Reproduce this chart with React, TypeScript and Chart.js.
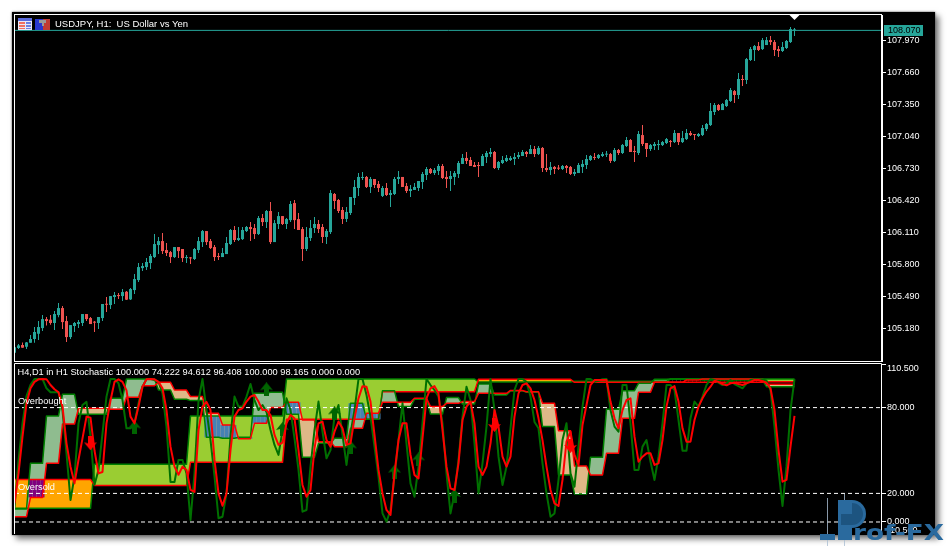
import React, { useEffect, useRef } from "react";
import { Chart, registerables } from "chart.js";

Chart.register(...registerables);

const chartTitle = "USDJPY, H1:  US Dollar vs Yen";
const stochTitle = "H4,D1 in H1 Stochastic 100.000 74.222 94.612 96.408 100.000 98.165 0.000 0.000";
const bidPrice = 108.07;
const priceTicks = [107.97, 107.66, 107.35, 107.04, 106.73, 106.42, 106.11, 105.8, 105.49, 105.18];
const stochTicks = [110.5, 80, 20, 0, -10.5];
const stochLevels = [80, 20, 0];

const candleHigh = [
  105.005,105.031,105.047,105.051,105.119,105.196,105.254,105.312,105.293,105.312,
  105.351,105.429,105.399,105.303,105.215,105.244,105.264,105.322,105.322,105.293,
  105.254,105.293,105.419,105.487,105.496,105.535,105.525,105.564,105.545,105.574,
  105.709,105.816,105.816,105.864,105.903,106.097,106.068,106.107,106.010,105.932,
  105.971,105.971,105.952,105.893,105.874,105.961,106.068,106.136,106.126,106.048,
  105.990,105.913,105.961,106.068,106.145,106.174,106.165,106.165,106.174,106.213,
  106.194,106.271,106.291,106.329,106.407,106.232,106.310,106.271,106.252,106.417,
  106.426,106.300,106.165,106.165,106.232,106.262,106.232,106.194,106.145,106.523,
  106.495,106.437,106.359,106.359,106.456,106.621,106.688,106.698,106.659,106.650,
  106.630,106.611,106.562,106.592,106.524,106.650,106.708,106.650,106.592,106.572,
  106.592,106.611,106.698,106.747,106.737,106.737,106.776,106.776,106.708,106.708,
  106.708,106.805,106.872,106.892,106.843,106.795,106.795,106.872,106.901,106.930,
  106.901,106.805,106.853,106.863,106.853,106.882,106.892,106.911,106.901,106.960,
  106.950,106.950,106.940,106.872,106.795,106.756,106.766,106.766,106.766,106.756,
  106.727,106.785,106.814,106.863,106.863,106.882,106.872,106.892,106.901,106.882,
  106.931,106.921,106.969,107.037,107.018,106.950,107.095,107.153,106.979,106.969,
  106.988,107.008,106.998,107.027,107.008,107.105,107.076,107.095,107.114,107.095,
  107.066,107.076,107.153,107.173,107.366,107.366,107.357,107.366,107.405,107.511,
  107.492,107.657,107.637,107.802,107.909,107.928,107.957,107.996,108.006,108.015,
  107.976,107.918,107.957,107.976,108.102,108.093,
];
const candleLow = [
  104.941,104.983,104.996,104.983,105.044,105.044,105.070,105.157,105.212,105.219,
  105.167,105.290,105.177,105.051,105.080,105.148,105.186,105.206,105.254,105.225,
  105.148,105.177,105.254,105.341,105.370,105.419,105.467,105.448,105.458,105.458,
  105.516,105.632,105.738,105.748,105.758,105.864,105.903,105.903,105.884,105.816,
  105.864,105.864,105.826,105.816,105.806,105.845,105.913,105.971,105.990,105.952,
  105.835,105.845,105.874,105.903,105.990,106.019,106.029,106.039,106.116,106.029,
  106.048,106.087,106.174,106.155,106.000,106.019,106.145,106.184,106.145,106.213,
  106.145,106.136,105.835,105.932,106.029,106.107,106.107,106.010,106.000,106.097,
  106.340,106.301,106.194,106.214,106.282,106.378,106.466,106.621,106.543,106.495,
  106.543,106.504,106.456,106.466,106.359,106.475,106.582,106.553,106.495,106.456,
  106.524,106.514,106.533,106.621,106.679,106.669,106.669,106.630,106.543,106.514,
  106.572,106.640,106.776,106.776,106.756,106.747,106.650,106.756,106.785,106.843,
  106.727,106.717,106.776,106.795,106.805,106.766,106.824,106.853,106.843,106.872,
  106.843,106.863,106.698,106.698,106.669,106.679,106.717,106.717,106.688,106.669,
  106.659,106.688,106.688,106.727,106.805,106.814,106.824,106.843,106.843,106.785,
  106.795,106.863,106.872,106.940,106.892,106.795,106.863,106.950,106.843,106.901,
  106.911,106.911,106.950,106.969,106.940,106.979,106.959,106.979,107.008,107.047,
  107.008,107.037,107.047,107.095,107.143,107.250,107.289,107.298,107.327,107.376,
  107.366,107.405,107.531,107.550,107.773,107.773,107.870,107.880,107.928,107.928,
  107.821,107.812,107.860,107.889,107.947,108.015,
];
const candleOpen = [
  104.947,104.993,105.022,105.005,105.044,105.080,105.131,105.186,105.273,105.267,
  105.235,105.312,105.380,105.254,105.099,105.206,105.225,105.235,105.322,105.283,
  105.248,105.235,105.283,105.419,105.409,105.487,105.506,105.496,105.538,105.464,
  105.554,105.651,105.767,105.777,105.816,105.874,105.990,106.029,105.942,105.922,
  105.874,105.971,105.952,105.864,105.867,105.855,105.942,106.019,106.126,106.029,
  105.971,105.884,105.874,105.903,106.000,106.136,106.039,106.048,106.126,106.165,
  106.155,106.097,106.252,106.213,106.320,106.019,106.194,106.271,106.194,106.232,
  106.397,106.242,106.145,105.952,106.058,106.155,106.194,106.165,106.068,106.116,
  106.485,106.427,106.330,106.243,106.301,106.446,106.543,106.640,106.650,106.553,
  106.630,106.582,106.466,106.543,106.475,106.485,106.630,106.650,106.562,106.514,
  106.524,106.543,106.601,106.669,106.727,106.688,106.708,106.756,106.650,106.630,
  106.650,106.679,106.776,106.834,106.814,106.766,106.766,106.756,106.843,106.872,
  106.892,106.737,106.785,106.805,106.814,106.824,106.843,106.853,106.892,106.872,
  106.921,106.872,106.931,106.737,106.717,106.747,106.740,106.727,106.756,106.747,
  106.679,106.688,106.747,106.766,106.814,106.843,106.834,106.853,106.866,106.872,
  106.805,106.911,106.882,106.950,107.008,106.902,106.882,107.056,106.979,106.921,
  106.950,106.959,106.959,106.979,106.998,106.988,107.076,106.988,107.017,107.076,
  107.063,107.047,107.056,107.114,107.153,107.279,107.347,107.298,107.337,107.386,
  107.482,107.444,107.599,107.589,107.783,107.880,107.918,107.889,107.928,107.976,
  107.957,107.889,107.870,107.899,107.957,108.070,
];
const candleClose = [
  104.999,105.018,104.996,105.047,105.080,105.148,105.196,105.273,105.254,105.235,
  105.322,105.380,105.244,105.099,105.215,105.235,105.244,105.322,105.273,105.225,
  105.238,105.293,105.419,105.412,105.496,105.506,105.496,105.535,105.461,105.564,
  105.661,105.777,105.787,105.826,105.884,106.000,106.029,105.932,105.913,105.874,
  105.971,105.932,105.864,105.874,105.861,105.952,106.029,106.126,106.019,105.961,
  105.874,105.874,105.913,106.010,106.136,106.039,106.058,106.136,106.165,106.145,
  106.097,106.252,106.213,106.320,106.019,106.203,106.271,106.194,106.242,106.388,
  106.232,106.136,105.952,106.068,106.155,106.194,106.145,106.068,106.126,106.494,
  106.417,106.320,106.243,106.311,106.456,106.553,106.650,106.650,106.553,106.630,
  106.572,106.543,106.543,106.475,106.495,106.630,106.650,106.553,106.514,106.533,
  106.553,106.611,106.679,106.727,106.688,106.717,106.756,106.640,106.630,106.659,
  106.688,106.785,106.834,106.805,106.756,106.747,106.756,106.853,106.882,106.892,
  106.737,106.795,106.814,106.834,106.834,106.843,106.863,106.892,106.872,106.921,
  106.872,106.931,106.737,106.717,106.747,106.727,106.730,106.756,106.737,106.679,
  106.698,106.766,106.776,106.824,106.853,106.834,106.863,106.872,106.872,106.805,
  106.911,106.882,106.960,107.008,106.892,106.892,107.066,106.969,106.921,106.959,
  106.969,106.969,106.988,107.017,106.988,107.076,106.988,107.027,107.076,107.056,
  107.056,107.066,107.124,107.163,107.289,107.347,107.298,107.357,107.395,107.492,
  107.444,107.599,107.589,107.792,107.889,107.918,107.880,107.976,107.976,107.957,
  107.880,107.870,107.909,107.967,108.083,108.073,
];

const h1Main = [
  10,43,69,88,96,100,100,100,93.5,90.7,
  90.7,90.7,78,48,15.4,31.7,69,81.8,84,59.7,
  26,36.4,62,87.7,100,100,97,85.3,65.5,65.5,
  69,83,94.6,100,100,99.3,98,90,66.7,28,
  28,43.4,43.4,34,1.4,34,85,100,78.3,57.3,
  32,2.6,3.7,20,59.7,87.7,80.7,80.7,87.7,96.5,
  85.3,78.3,81.8,77,64.3,53.9,46.9,64.3,86.5,78.3,
  58.5,36.4,7.2,8.4,38.7,64.3,84.2,63.2,44.5,50.3,
  73.7,81.8,60.9,39.9,62,78.3,100,100,88.8,73.7,
  52.7,31.7,6,0.2,8.4,31.7,57.3,83,55,27,
  17.7,38.7,69,100,95.8,92.3,87.7,69,34,6,
  20,43.4,73.7,94.6,85.3,55,20,41,66.7,100,
  78.3,45.7,25.9,38.7,65.5,92.3,100,100,98,87.7,
  70,65.5,41,20,3.7,6,29.4,57.3,69,34,
  24.7,52.7,80.7,100,100,98,98.8,99.8,100,78.3,
  66.7,63.2,95.8,95.8,69,36.4,36.4,52.7,57.3,42.2,
  29.4,45.7,69,95.8,95.8,92.3,71.3,49.9,49.9,72.5,
  84.2,80.7,87.7,95.8,100,99.3,97.4,95.8,97,99.3,
  96.5,95,93.5,97,99.3,99.8,99.8,99.8,98.8,92.3,
  66.7,36.4,11.2,38.7,78.3,100,
];
const h1Signal = [
  13,34,59.7,83,93.5,98,99.8,100,99.8,95.8,
  92.8,90.7,80.7,55,38.7,27,43.4,58.5,73.7,73,
  50,34,35,69,85,98,99.8,98,92,73.7,
  69,80.7,94.6,99.8,100,99.8,98,93.5,78.3,52.7,
  38.7,33,38.7,36.4,22.4,21,64.3,80.7,84,78.3,
  43.4,20,11.4,20,50.3,73.7,78.3,79.5,84.2,87.7,
  88.8,84.2,78.3,78.3,74.8,60.9,53.9,55.5,69,74.8,
  72.5,50.3,25.9,17.7,22.4,51.5,69,70.2,57.3,52.7,
  63.2,70.2,65.5,53.9,55,72.5,86.5,95,94.6,84.2,
  60.9,36.4,20,8.4,4.9,34,57.3,69,69,46.9,
  32.9,30.5,58.5,86.5,93.5,95,90,64.3,38.7,23.5,
  22.4,41,71.3,80.7,84.2,69,38.7,32.9,38.7,55,
  78.3,66.7,45.7,38.7,45.7,73.7,90,95.8,97,93.5,
  85.3,72.5,57.3,38.7,22.4,13,11.2,29.4,56.2,63.2,
  46.9,39.9,67.8,81.8,95.8,99.3,99.3,99.3,99.3,84.2,
  72.5,65.5,78.3,85.3,86.5,59.7,42.2,45.7,48,48,
  39.9,41,57.3,80.7,93.5,95,84.2,65.5,56.2,56.2,
  71.3,80.7,86.5,91.2,94.6,98.8,98,96.5,95.6,97,
  97.4,96.5,95.8,97,98,99.3,99.3,98.4,97.4,93.5,
  78.3,50.3,28.2,29.4,52.7,74.222,
];

// one value for every 4 H1 bars (H4 candle)
const h4Main = [9.1,41,74.1,89.3,75.3,75.3,86.5,100,100,92.3,85.8,84.9,59.2,58.5,59.2,90,90.7,75.3,45.2,55,58.5,83,71.8,91.8,80.7,85.8,75.5,87,82.5,96.5,88.8,91.7,90.7,66.7,32.9,19.6,45.2,78.8,91.8,97,99.8,100,100,99.3,99.3,99.3,99.3,94.612,94.612];
const h4Signal = [3.7,17.2,41,68.5,79.5,79.5,78.8,87.2,95.3,97.7,92.3,87.7,76,67.8,58.3,69,80,83.7,71.3,56.2,52.7,65.5,76,83.7,83.7,86.5,80.7,83,84.2,90,90,92,91.1,83,63.9,39.2,32.9,48,72.5,90.7,97.7,97.7,99.3,100,100,100,100,96.408,96.408];
// one value per D1 candle
const d1StartBars = [0, 20, 44, 68, 92, 116, 140, 164, 188];
const d1Main = [9.56, 40.3, 74.1, 100, 100, 97.9, 98.4, 100, 100];
const d1Signal = [29.8, 25.6, 41.7, 71.8, 91.1, 99.8, 97.7, 97.7, 98.165];
const d1OverlapColours = ["#800080", "", "#4682b4", "#4682b4", "", "", "", "", ""];

const upArrowBars = [30, 63, 67, 80, 84, 95, 101, 110];
const upArrowValues = [66.2, 92.8, 65, 76, 52.2, 35.2, 43.8, 18.2];
const downArrowBars = [19, 120, 139];
const downArrowValues = [55, 67.8, 53.2];

const UP = "#26a69a";
const DOWN = "#ef5350";
const AXIS_FONT = "9px 'Liberation Sans'";
const TEXT_FONT = "9.5px 'Liberation Sans'";
const STOCH_FONT = "9.25px 'Liberation Sans'";
const BAR_COUNT = candleHigh.length;
const X_MIN = 0.125;
const X_MAX = 216.875;

const h4Bars = h4Main.map((_, i) => i * 4);
function stepPoints(starts: number[], values: number[]) {
  const pts: { x: number; y: number }[] = [];
  values.forEach((v, i) => {
    const end = i + 1 < starts.length ? starts[i + 1] - 1 : BAR_COUNT - 1;
    pts.push({ x: starts[i], y: v });
    if (end > starts[i]) pts.push({ x: end, y: v });
  });
  return pts;
}
function segmentIndex(starts: number[], bar: number) {
  let s = 0;
  for (let i = 0; i < starts.length; i++) if (bar >= starts[i]) s = i;
  return s;
}

function overlapBars() {
  const data: { x: number; y: [number, number] }[] = [];
  const colours: string[] = [];
  for (let k = 0; k < BAR_COUNT; k++) {
    const d = segmentIndex(d1StartBars, k);
    const h = Math.floor(k / 4);
    if (d === 7) {
      data.push({ x: k, y: [d1Signal[d], d1Main[d]] });
      colours.push("#000000");
      continue;
    }
    const low = Math.max(Math.min(d1Main[d], d1Signal[d]), Math.min(h4Main[h], h4Signal[h]));
    const high = Math.min(Math.max(d1Main[d], d1Signal[d]), Math.max(h4Main[h], h4Signal[h]));
    if (high > low && d1OverlapColours[d]) {
      data.push({ x: k, y: [low, high] });
      colours.push(d1OverlapColours[d]);
    }
  }
  return { data, colours };
}

function arrowImage(colour: string, up: boolean) {
  const c = document.createElement("canvas");
  c.width = 13;
  c.height = 14;
  const g = c.getContext("2d")!;
  g.fillStyle = colour;
  if (!up) {
    g.translate(0, 14);
    g.scale(1, -1);
  }
  g.beginPath();
  g.moveTo(6.5, 0);
  g.lineTo(13, 8);
  g.lineTo(9, 7);
  g.lineTo(9, 14);
  g.lineTo(4, 14);
  g.lineTo(4, 7);
  g.lineTo(0, 8);
  g.closePath();
  g.fill();
  return c;
}

// scale labels must not push the plot area inwards
function fitAxis(s: any) {
  s.width = 65;
  s.paddingTop = 0;
  s.paddingBottom = 0;
}

const topDecor = {
  id: "topDecor",
  afterDraw(chart: any) {
    const g = chart.ctx;
    const y = chart.scales.y;
    g.save();
    g.strokeStyle = "#ffffff";
    g.lineWidth = 1;
    g.strokeRect(14.5, 14.5, 867, 347);
    // indicators icon
    g.fillStyle = "#e8e8f8";
    g.fillRect(18, 18, 14, 12);
    g.fillStyle = "#5a6adc";
    g.fillRect(18, 18, 14, 3);
    g.fillStyle = "#f07060";
    g.fillRect(19, 22, 6, 2);
    g.fillRect(19, 25, 6, 2);
    g.fillRect(19, 28, 6, 1);
    g.fillStyle = "#6a80e0";
    g.fillRect(26, 22, 5, 2);
    g.fillRect(26, 25, 5, 2);
    g.fillRect(26, 28, 5, 1);
    // expert icon
    g.fillStyle = "#2838d0";
    g.fillRect(35, 19, 8, 11);
    g.fillStyle = "#c03c34";
    g.fillRect(43, 19, 7, 11);
    g.fillStyle = "#9a9a9a";
    g.fillRect(39, 20, 7, 3);
    g.fillRect(42, 23, 2, 3);
    g.fillStyle = "#ffffff";
    g.font = TEXT_FONT;
    g.textBaseline = "middle";
    g.fillText(chartTitle, 55, 24.5);
    // last-price tag
    const py = y.getPixelForValue(bidPrice);
    g.fillStyle = UP;
    g.fillRect(884, 25, 39, 11);
    g.fillStyle = "#000000";
    g.font = AXIS_FONT;
    g.fillText(bidPrice.toFixed(3), 888, py + 0.5);
    // current-bar marker
    const mx = chart.scales.x.getPixelForValue(BAR_COUNT - 1);
    g.fillStyle = "#ffffff";
    g.beginPath();
    g.moveTo(mx - 5, 15);
    g.lineTo(mx + 5, 15);
    g.lineTo(mx, 20);
    g.closePath();
    g.fill();
    g.restore();
  },
};

const bottomDecor = {
  id: "bottomDecor",
  afterDraw(chart: any) {
    const g = chart.ctx;
    g.save();
    g.strokeStyle = "#ffffff";
    g.lineWidth = 1;
    g.beginPath();
    g.moveTo(14.5, 172);
    g.lineTo(14.5, 1.5);
    g.lineTo(881.5, 1.5);
    g.lineTo(881.5, 173);
    g.stroke();
    g.fillStyle = "#ffffff";
    g.font = STOCH_FONT;
    g.textBaseline = "middle";
    g.fillText(stochTitle, 17.5, 10);
    const ys = chart.scales.y;
    g.fillText("Overbought", 18, ys.getPixelForValue(80) - 6);
    g.fillText("Oversold", 18, ys.getPixelForValue(20) - 6);
    g.font = AXIS_FONT;
    g.fillText((110.5).toFixed(3), 887, 6.5);
    g.fillText((-10.5).toFixed(3), 887, 169);
    // watermark
    const blue = "#2a6a9e";
    g.fillStyle = "rgba(170,190,210,0.8)";
    g.fillRect(827, 136, 1, 48);
    g.fillRect(844, 132, 1, 52);
    g.fillStyle = blue;
    g.fillRect(820, 172, 15, 6);
    g.fillRect(838, 138, 14, 40);
    g.beginPath();
    g.arc(852, 152, 14, -Math.PI / 2, Math.PI / 2);
    g.lineTo(838, 166);
    g.lineTo(838, 138);
    g.closePath();
    g.fill();
    g.fillStyle = "#1d5480";
    g.beginPath();
    g.moveTo(852, 141);
    g.arc(852, 152, 11, -Math.PI / 2, Math.PI / 2);
    g.lineTo(841, 163);
    g.lineTo(841, 152);
    g.lineTo(852, 152);
    g.closePath();
    g.fill();
    g.fillStyle = blue;
    g.font = "bold 21px 'DejaVu Sans'";
    g.textBaseline = "alphabetic";
    g.translate(853, 178);
    g.scale(1.25, 1);
    g.fillText("rof-FX", 0, 0);
    g.restore();
  },
};

export default function App() {
  const topRef = useRef<HTMLCanvasElement>(null);
  const bottomRef = useRef<HTMLCanvasElement>(null);

  useEffect(() => {
    const bars = candleHigh.map((_, i) => i);
    const colours = candleClose.map((c, i) => (c >= candleOpen[i] ? UP : DOWN));
    const xScale = { type: "linear" as const, min: X_MIN, max: X_MAX, display: false, offset: false };

    const top = new Chart(topRef.current!, {
      type: "bar",
      data: {
        datasets: [
          {
            type: "line",
            data: [{ x: X_MIN, y: bidPrice }, { x: X_MAX, y: bidPrice }],
            borderColor: UP,
            borderWidth: 1,
            pointRadius: 0,
            order: 3,
          },
          {
            data: bars.map((k) => ({ x: k, y: [candleLow[k], candleHigh[k]] })),
            backgroundColor: colours,
            barThickness: 1,
            grouped: false,
            inflateAmount: 0,
            minBarLength: 1,
            order: 2,
          },
          {
            data: bars.map((k) => ({ x: k, y: [candleOpen[k], candleClose[k]] })),
            backgroundColor: colours,
            barThickness: 3,
            grouped: false,
            inflateAmount: 0,
            minBarLength: 1,
            order: 1,
          },
        ] as any,
      },
      options: {
        responsive: false,
        animation: false,
        devicePixelRatio: 1,
        layout: { autoPadding: false, padding: { left: 15, top: 15, right: 0, bottom: 1 } },
        plugins: { legend: { display: false }, tooltip: { enabled: false } },
        scales: {
          x: xScale,
          y: {
            type: "linear",
            position: "right",
            min: 104.867,
            max: 108.219,
            afterFit: fitAxis,
            afterBuildTicks: (s: any) => {
              s.ticks = priceTicks.map((value) => ({ value }));
            },
            border: { color: "#ffffff" },
            grid: { drawOnChartArea: false, tickLength: 4, tickColor: "#ffffff", color: "#ffffff" },
            ticks: {
              color: "#ffffff",
              padding: 1,
              font: { family: "Liberation Sans", size: 9 },
              autoSkip: false,
              callback: (v: any) => Number(v).toFixed(3),
            },
          },
        },
      } as any,
      plugins: [topDecor],
    });

    const overlap = overlapBars();
    const lineBase = { pointRadius: 0, tension: 0, borderJoinStyle: "round" as const };
    const h4M = stepPoints(h4Bars, h4Main);
    const h4S = stepPoints(h4Bars, h4Signal);
    const d1M = stepPoints(d1StartBars, d1Main);
    const d1S = stepPoints(d1StartBars, d1Signal);

    const bottom = new Chart(bottomRef.current!, {
      type: "line",
      data: {
        datasets: [
          { ...lineBase, data: d1M, borderColor: "#008000", borderWidth: 1.5, order: 45, fill: { target: 1, above: "#9acd32", below: "#ffa500" } },
          { ...lineBase, data: d1S, borderColor: "#ff0000", borderWidth: 1.5, order: 44, fill: false },
          { ...lineBase, data: h4M, borderColor: "#008000", borderWidth: 1.5, order: 43, fill: { target: 3, above: "#8fbc8f", below: "#deb887" } },
          { ...lineBase, data: h4S, borderColor: "#ff0000", borderWidth: 1.5, order: 42, fill: false },
          {
            type: "bar",
            data: overlap.data,
            backgroundColor: overlap.colours,
            barThickness: 4,
            grouped: false,
            inflateAmount: 0,
            order: 50,
          },
          ...stochLevels.map((level) => ({
            ...lineBase,
            data: [{ x: X_MIN, y: level }, { x: X_MAX, y: level }],
            borderColor: "#ffffff",
            borderWidth: 1,
            borderDash: [4, 3],
            fill: false,
            order: 30,
          })),
          {
            ...lineBase,
            data: upArrowBars.map((x, i) => ({ x, y: upArrowValues[i] })),
            showLine: false,
            pointRadius: 6,
            pointStyle: arrowImage("#006400", true),
            order: 10.5,
          },
          {
            ...lineBase,
            data: downArrowBars.map((x, i) => ({ x, y: downArrowValues[i] })),
            showLine: false,
            pointRadius: 6,
            pointStyle: arrowImage("#ff0000", false),
            order: 10.5,
          },
          { ...lineBase, data: bars.map((k) => ({ x: k, y: h1Main[k] })), borderColor: "#007000", borderWidth: 2, fill: false, order: 11 },
          { ...lineBase, data: bars.map((k) => ({ x: k, y: h1Signal[k] })), borderColor: "#ff0000", borderWidth: 2, fill: false, order: 10 },
        ] as any,
      },
      options: {
        responsive: false,
        animation: false,
        devicePixelRatio: 1,
        layout: { autoPadding: false, padding: { left: 15, top: 2, right: 0, bottom: 9 } },
        plugins: {
          legend: { display: false },
          tooltip: { enabled: false },
          filler: { drawTime: "beforeDatasetsDraw" },
        },
        scales: {
          x: xScale,
          y: {
            type: "linear",
            position: "right",
            min: -10.5,
            max: 110.5,
            afterFit: fitAxis,
            afterBuildTicks: (s: any) => {
              s.ticks = stochTicks.map((value) => ({ value }));
            },
            border: { display: false },
            grid: {
              drawOnChartArea: false,
              tickLength: 4,
              tickColor: (c: any) => (c.tick && c.tick.value === -10.5 ? "rgba(0,0,0,0)" : "#ffffff"),
              color: "#ffffff",
            },
            ticks: {
              color: "#ffffff",
              padding: 1,
              font: { family: "Liberation Sans", size: 9 },
              autoSkip: false,
              callback: (v: any) => (v === 110.5 || v === -10.5 ? "" : Number(v).toFixed(3)),
            },
          },
        },
      } as any,
      plugins: [bottomDecor],
    });

    return () => {
      top.destroy();
      bottom.destroy();
    };
  }, []);

  return (
    <div style={{ position: "fixed", left: 0, top: 0, width: 947, height: 546, background: "#ffffff", overflow: "hidden" }}>
      <div
        style={{
          position: "absolute",
          left: 12,
          top: 12,
          width: 923,
          height: 523,
          background: "#000000",
          boxShadow: "0 0 2px #555555, 4px 4px 6px #777777",
        }}
      />
      <canvas ref={topRef} width={947} height={362} style={{ position: "absolute", left: 0, top: 0 }} />
      <canvas ref={bottomRef} width={947} height={184} style={{ position: "absolute", left: 0, top: 362 }} />
    </div>
  );
}
